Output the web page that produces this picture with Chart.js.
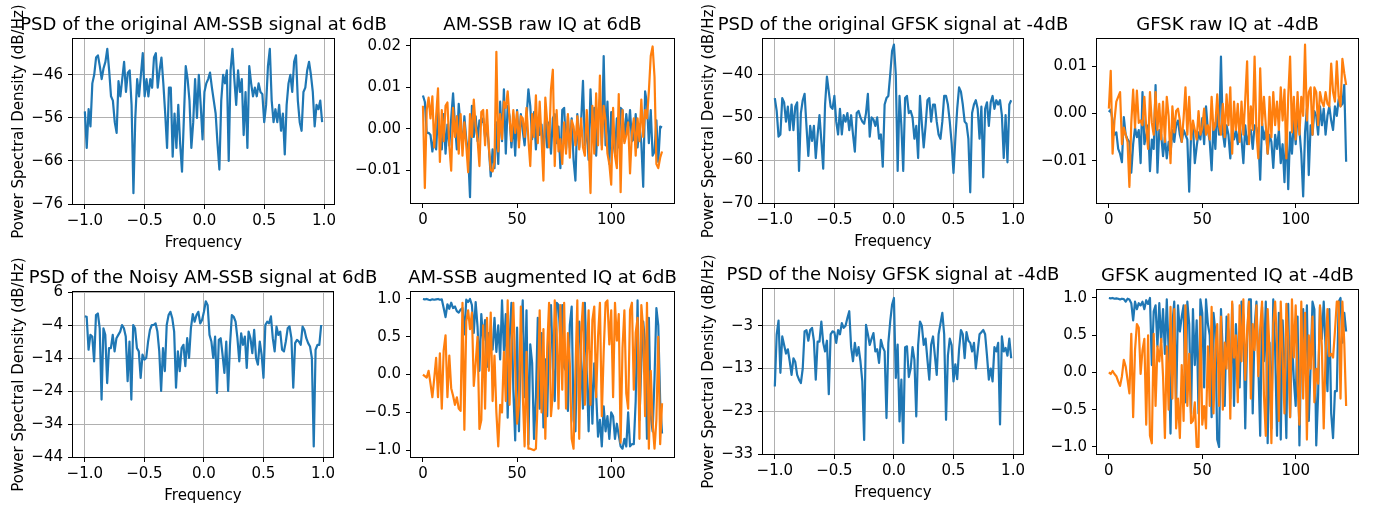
<!DOCTYPE html>
<html>
<head>
<meta charset="utf-8">
<script src="https://cdn.jsdelivr.net/npm/chart.js@4.4.1/dist/chart.umd.min.js"></script>
<style>
  html, body { margin: 0; padding: 0; background: #fff; overflow: hidden; }
  body { width: 1374px; height: 506px; position: relative; }
  canvas { position: absolute; }
</style>
</head>
<body>
<script>
// x positions: fft-shifted frequency bins and raw sample index
const freqBins = Array.from({ length: 128 }, (_, k) => -1 + k / 64);
const sampleIdx = Array.from({ length: 128 }, (_, k) => k);

// PSD of the original AM-SSB signal (dB/Hz)
const psdAmOrig = [
  -54.5, -63, -54, -58, -48, -46, -42, -41.5, -44, -47, -44.5, -43, -40, -45, -51, -52,
  -57, -59.5, -47.5, -51, -47, -43, -50, -45.5, -45, -53, -73.5, -56, -47, -51, -46, -41,
  -51, -47, -51, -47, -49, -42, -41, -49, -45, -42, -48, -55, -63, -49, -49, -65,
  -55, -63, -53, -62, -68.5, -56, -44, -47, -52, -63, -57, -47, -56, -46, -53, -61,
  -50, -48, -47, -45.5, -49, -52, -55, -62, -68, -52, -46, -48, -45, -66, -45, -40,
  -47, -53, -45, -50, -47, -60, -50, -63, -44, -48, -51, -49, -51, -48, -50, -50.5,
  -57, -53, -44, -40, -52, -57, -54, -57, -53, -59, -55, -64.5, -53, -48, -46, -50,
  -43, -41.5, -52, -57, -59, -50, -49, -45, -43, -46, -50, -58, -53, -54, -52, -57
];

// AM-SSB raw IQ
const iqAmRawI = [
  0.008, 0.0065, -0.001, -0.001, -0.0015, -0.0055, -0.002, -0.005, 0.004, -0.002, -0.005, 0.0035, -0.006, 0.001, -0.004, 0.0025,
  0.0085, 0.001, -0.005, 0.006, 0.0005, -0.004, 0.003, -0.0025, -0.006, -0.0165, 0.0055, -0.002, 0.003, -0.003, 0.002, 0.0015,
  0.0025, -0.002, 0.001, -0.0045, -0.0115, -0.005, -0.0095, 0.0015, -0.0085, 0.0065, -0.003, 0.0095, -0.006, 0.0055, 0.003, -0.0045,
  0.002, -0.0065, 0.0045, -0.003, 0.0035, -0.0005, -0.004, 0.0025, 0.0095, 0.0055, -0.0025, 0.004, -0.005, 0.0025, -0.0015, 0.001,
  -0.0075, 0.0035, -0.0045, 0.0015, -0.006, 0.0025, 0.0035, -0.0035, 0.0005, -0.0095, 0.0045, 0.005, -0.005, 0.003, -0.0045, 0.0025,
  -0.0075, -0.0125, 0.0035, -0.0045, 0.0015, 0.0115, -0.004, 0.0005, -0.0075, 0.0095, -0.002, 0.005, -0.0065, 0.003, 0.007, -0.004,
  0.0175, -0.004, 0.0065, -0.0085, 0.004, -0.003, -0.006, 0.0025, -0.0045, 0.005, 0.0045, -0.003, 0.0035, -0.001, 0.0045, -0.003,
  -0.0025, 0.0035, -0.0045, 0.001, -0.0035, -0.014, 0.009, 0.006, -0.0035, 0.0045, -0.0065, -0.0055, 0.002, -0.008, 0.0005, 0.0003
];
const iqAmRawQ = [
  0.0055, -0.0143, 0.0045, 0.0075, 0.0025, 0.0078, -0.0045, 0.003, 0.0097, -0.008, 0.0045, -0.003, 0.0055, 0.0063, -0.004, -0.0101,
  0.005, -0.002, 0.003, -0.006, 0.0035, -0.0065, 0.0015, -0.004, -0.0105, 0.0035, -0.002, 0.007, 0.0005, -0.0025, -0.009, 0.004,
  0.0045, -0.004, 0.0045, -0.0045, -0.01, -0.0103, -0.008, 0.0185, -0.0055, 0.0035, -0.0025, 0.0065, 0.005, 0.009, 0.0025, -0.003,
  0.0045, -0.001, 0.004, -0.0045, 0.003, 0.0025, -0.002, 0.005, -0.0025, -0.009, 0.0035, -0.002, 0.008, -0.0035, 0.0065, -0.0025,
  -0.0125, 0.0075, 0.0015, -0.0045, 0.0095, 0.0142, -0.009, 0.0045, -0.0055, -0.0025, -0.0085, 0.0015, -0.006, 0.0035, -0.007, 0.002,
  0.0005, -0.004, 0.003, -0.005, 0.0025, -0.0045, -0.0065, 0.0045, -0.0035, -0.0155, 0.0055, -0.006, 0.0085, -0.004, 0.0128, -0.005,
  0.0055, 0.002, -0.006, -0.0085, -0.0135, 0.005, -0.0065, -0.0095, 0.0083, -0.0153, 0.0045, -0.0035, -0.0015, 0.0015, -0.0108, -0.001,
  0.0025, -0.0065, 0.0025, -0.003, 0.007, -0.002, 0.0045, 0.0025, 0.009, 0.0175, 0.0198, 0.0125, -0.0085, -0.0095, -0.007, -0.0055
];

// PSD of the original GFSK signal (dB/Hz)
const psdGfskOrig = [
  -45.5, -48.5, -54.5, -54, -45.5, -46.5, -51, -47.5, -53, -47, -53, -47.5, -46.5, -62.5, -49, -46,
  -44.5, -52, -59, -52, -55.5, -52, -59.5, -54, -49.5, -55.5, -62, -47, -40.5, -44, -47.5, -48,
  -45, -51, -54, -48, -54, -49.5, -51, -49, -53, -49.5, -54, -58, -49, -48.5, -50, -51,
  -51.5, -49, -44.5, -54.5, -50, -50.5, -52, -50, -55, -54, -61.5, -47, -45.5, -45, -40, -34.5,
  -33, -40, -62.5, -45, -52, -62.5, -45.5, -45, -49, -48.5, -50, -55, -52, -59.5, -45, -51.5,
  -57, -52, -46, -45.5, -51, -47, -47, -51, -54, -55, -51, -45, -45, -47, -51, -56,
  -63, -55, -48, -43, -44, -47, -51, -51.5, -55, -67.5, -49, -47, -46, -48, -55, -47.5,
  -64, -48, -46.5, -52, -46.5, -45, -48, -46, -47, -46, -49.5, -59.5, -49.5, -60.5, -47, -46
];

// GFSK raw IQ
const iqGfskRawI = [
  0.0003, 0.0008, -0.0015, -0.0045, -0.004, -0.0075, -0.0085, -0.0103, -0.0008, -0.0045, -0.0055, -0.006, -0.0125, -0.0065, -0.003, -0.005,
  -0.0035, -0.0105, 0.0045, -0.0065, -0.0045, -0.0025, -0.0122, -0.0055, -0.0075, 0.006, -0.0125, -0.0035, -0.0045, -0.009, -0.005, -0.0095,
  -0.006, -0.0085, -0.0035, -0.006, -0.0025, -0.0015, -0.0045, -0.006, -0.0035, -0.0045, -0.0055, -0.0165, -0.0045, -0.0025, -0.0105, -0.007,
  -0.004, -0.0055, -0.001, -0.0065, 0.0015, -0.0035, -0.006, -0.012, -0.002, -0.0075, 0.0015, -0.0045, 0.012, -0.004, -0.007, -0.0025,
  -0.0045, -0.0095, -0.003, -0.0055, -0.0035, -0.0065, -0.0025, -0.0055, -0.0105, -0.0025, -0.0065, -0.0045, -0.0035, -0.0075, -0.0025, -0.003,
  -0.0055, -0.014, -0.002, -0.0055, -0.0035, -0.0085, -0.0045, -0.006, -0.0115, -0.0045, -0.0075, -0.0035, -0.0105, -0.0065, -0.0145, -0.0025,
  -0.016, -0.004, -0.0085, -0.0015, -0.0065, -0.0005, -0.0035, -0.0085, -0.0175, -0.004, 0.001, -0.013, -0.0025, -0.0045, 0.0005, -0.0005,
  -0.0045, 0.0015, -0.0025, 0.001, -0.0045, -0.0005, 0.0015, -0.0015, -0.0035, 0.0015, -0.0005, 0.003, 0.0015, 0.002, 0.006, -0.0102
];
const iqGfskRawQ = [
  0.001, 0.009, -0.0085, -0.0015, 0.0025, 0.0035, 0.0045, -0.0065, -0.003, -0.0045, -0.006, -0.0155, -0.002, 0.005, -0.003, 0.0048,
  -0.002, -0.0015, -0.0025, 0.0035, -0.003, -0.0075, 0.0045, -0.002, -0.0045, 0.0045, -0.0035, 0.002, -0.0055, 0.0025, -0.006, 0.0035,
  -0.0005, -0.0105, 0.0015, -0.004, 0.0005, 0.001, -0.0015, -0.006, -0.001, 0.0055, -0.0045, 0.0035, -0.0055, -0.0015, -0.0035, -0.0055,
  0.0005, -0.0045, -0.003, 0.001, -0.0045, -0.0025, -0.0055, 0.0035, -0.0035, -0.0025, 0.004, -0.0025, -0.0045, 0.002, -0.005, 0.004,
  -0.0025, 0.0055, -0.0085, 0.0025, -0.0035, 0.002, -0.006, 0.0025, -0.0045, 0.003, 0.011, -0.0065, 0.0015, -0.0035, 0.012, -0.004,
  -0.0095, 0.0095, -0.0025, 0.0035, -0.0025, -0.0085, 0.0035, -0.005, 0.0045, -0.0025, 0.0025, -0.0035, 0.0055, -0.0015, 0.005, -0.0095,
  0.0035, 0.012, -0.004, 0.0035, -0.0055, 0.0045, -0.0045, 0.0035, -0.0005, 0.0145, -0.0015, 0.0045, 0.0055, -0.0045, 0.0055, 0.0045,
  -0.0025, 0.0045, 0.0025, 0.0015, 0.0045, 0.002, 0.0015, 0.0105, 0.0045, 0.0025, 0.011, 0.0035, 0.0015, 0.0115, 0.0085, 0.006
];

// PSD of the noisy AM-SSB signal (dB/Hz)
const psdAmNoisy = [
  -1.4, -1.5, -11.5, -7, -7.5, -15, -1, -0.5, -5, -26.6, -5, -7, -21.6, -11, -11, -7,
  -12, -8, -7, -6, -4, -5, -7.5, -21, -9, -26.6, -4, -5, -11, -12, -20, -13,
  -14.5, -14, -9, -5.5, -4, -4, -3.5, -6, -12, -24, -11, -18, -4, -1, 0, -2,
  -6, -23, -12, -18, -11, -10, -16.5, -8, -14, -5, -0.7, -3, -1, 0, -3.5, -2.5,
  0, 3.2, 2, -7, -9, -14, -7.5, -24.6, -8.5, -8, -13, -18.5, -9, -24, -10, -1,
  -1.5, -3, -8, -15, -6.5, -10, -7.5, -17, -6, -8, -12.5, -5.5, -14, -16, -9, -13,
  -20, -4, -3, -3.5, -1.4, -8, -12, -4.5, -7, -6, -11.5, -12, -9, -5, -4.4, -8,
  -23, -9.5, -8.5, -9, -10, -4.5, -5.5, -8, -9.5, -10.5, -14, -40.8, -11.5, -10, -10, -4
];

// AM-SSB augmented IQ
const iqAmAugI = [
  1.0, 0.995, 1.0, 0.99, 0.985, 0.995, 0.99, 0.995, 1.0, 0.99, 0.995, 0.88, 0.76, 0.93, 0.87, 0.95,
  0.88, 0.9, 0.84, 0.82, 0.86, 0.88, 0.53, 0.99, 0.96, 1.0, 0.92, 0.55, 0.96, 0.63, 0.05, 0.8,
  0.45, 0.72, 0.1, 0.55, 0.38, 0.33, 0.75, 0.3, 0.65, 0.2, 0.98, 0.32, 0.8, -0.57, 0.45, 0.95,
  -0.2, -0.87, 0.62, -0.75, 0.5, 0.98, -0.3, 0.85, -0.92, 0.4, 0.15, -0.85, -0.3, 0.75, -0.45, 0.55,
  -0.7, 0.2, -0.55, 0.6, 0.92, 0.1, -0.35, 0.95, 0.92, 0.45, 0.92, 0.1, 0.05, -0.48, 0.65, 0.9,
  -0.6, -0.75, 0.5, 0.7, 0.15, -0.45, 0.95, 0.05, -0.75, 0.3, -0.65, 0.15, -0.25, -0.82, -0.6, -0.95,
  -0.42, -0.75, -0.55, -0.85, -0.5, -0.55, -0.85, -0.65, -0.8, -0.95, -0.98, -0.85, -0.95, -0.5, -0.95, -0.92,
  -0.92, -0.35, 0.98, -0.6, 0.15, 0.7, 0.4, -0.85, 0.75, -0.55, -0.75, -0.05, 0.88, 0.65, -0.35, -0.78
];
const iqAmAugQ = [
  0.0, -0.02, -0.04, 0.05, -0.12, -0.3, -0.05, 0.22, -0.3, 0.28, -0.45, 0.32, 0.52, -0.3, 0.25, -0.18,
  -0.28, -0.4, -0.3, -0.45, -0.48, 0.95, -0.73, 0.7, 0.85, 0.6, 0.82, -0.15, 0.15, 0.5, -0.72, -0.6,
  0.65, -0.45, 0.75, 0.05, 0.82, -0.35, 0.25, -0.5, -0.95, -0.4, -0.5, 0.3, -0.35, 0.98, -0.4, 0.4,
  0.95, 0.1, -0.65, -0.4, 0.9, -0.25, -0.95, 0.3, -0.98, -0.98, -0.99, -1.0, -0.98, -0.3, 0.85, -0.5,
  0.6, -0.85, 0.35, 0.95, -0.55, -0.25, 0.98, 0.6, -0.45, 0.92, -0.2, 0.95, -0.45, 0.55, 0.15, -0.85,
  -0.98, 0.05, 0.98, -0.85, 0.55, 0.95, -0.4, 0.2, 0.85, -0.4, 0.72, 0.9, -0.3, 0.5, 0.95, -0.55,
  0.3, 0.95, 0.98, 0.4, 0.85, -0.3, 0.95, 0.45, 0.8, -0.9, 0.35, 0.85, -0.25, -0.45, 0.85, 0.95,
  -0.2, 0.55, 0.75, -0.85, 0.92, 0.6, -0.55, 0.95, -0.98, 0.05, -0.65, -0.98, -0.6, 0.5, -0.92, -0.38
];

// PSD of the noisy GFSK signal (dB/Hz)
const psdGfskNoisy = [
  -17.2, -5, -1.8, -14, -5.5, -7.5, -9.5, -8.5, -11.3, -14.5, -10.6, -11.5, -14.5, -15.6, -16.4, -13,
  -4.3, -4, -6.5, -4, -3.5, -6.5, -15.6, -6.7, -6.7, -2, -7, -9, -6.5, -19, -5, -4.3,
  -4.5, -7, -4, -5, -2.4, -3.5, -3, -1.2, 0.4, -8, -11.3, -7, -10, -8, -11.3, -16,
  -29.7, -2.8, -5, -7.5, -6, -4.7, -9, -8.5, -11.7, -6.3, -8, -9, -24.6, -7, -2, 1.9,
  3.5, -15.2, -7.4, -25.4, -15.6, -30.4, -8, -7.8, -15, -13, -8, -11, -24.2, -7.5, -2, -3,
  -7.5, -6, -11, -15.6, -7.4, -5.5, -10, -14.5, -5, -2.5, 0, -5, -25, -10, -6, -7.5,
  -16, -12, -15.5, -8.5, -4, -5, -10.6, -4.5, -6.5, -7, -9, -7, -13, -9, -5, -4.5,
  -4, -5, -10, -15.6, -13, -16, -8, -9, -7, -26.1, -5.5, -9, -8.2, -10, -6, -10.6
];

// GFSK augmented IQ
const iqGfskAugI = [
  1.0, 0.995, 1.0, 0.99, 0.995, 0.99, 0.98, 0.99, 0.985, 0.95, 0.99, 0.98, 0.93, 0.7, 0.95, 0.85,
  0.93, 0.9, 0.95, 0.85, 0.97, 0.92, 1.0, 0.1, 0.82, 0.9, 0.35, 0.93, 0.4, 0.85, 0.25, 0.98,
  0.3, -0.82, 0.65, 0.95, -0.45, 0.9, 0.55, 0.75, 0.9, -0.4, 0.95, 0.65, -0.55, 0.85, 0.1, 0.7,
  -0.55, 0.98, 0.8, -0.2, 0.98, 0.65, 0.5, -0.6, 0.8, 0.55, -0.9, -1.0, 0.85, 0.25, -0.45, 0.75,
  0.55, -0.35, 0.92, -0.45, 0.65, 0.1, -0.2, 0.95, 0.75, -0.75, 0.45, 0.98, 0.98, -0.55, 0.6, 0.95,
  0.1, -0.85, 0.88, 0.15, 0.95, -0.95, 0.4, -0.75, 0.98, 0.3, -0.85, 0.8, -0.9, 0.7, 0.05, -0.88,
  0.92, -0.6, 0.5, -0.1, -0.45, 0.75, -0.98, 0.45, 0.85, 0.15, 0.9, -0.65, 0.1, 0.95, 0.85, -0.98,
  -0.3, 0.88, 0.45, 0.95, 0.35, -0.25, 0.85, -0.55, -0.88, -0.25, -0.25, 0.95, 1.0, 0.4, 0.8, 0.55
];
const iqGfskAugQ = [
  0.0, -0.02, 0.02, -0.02, -0.05, -0.12, -0.18, -0.05, 0.17, 0.08, -0.1, -0.28, 0.52, -0.6, 0.3, 0.65,
  0.6, -0.02, 0.3, 0.45, -0.7, 0.5, -0.85, -0.95, 0.52, -0.45, 0.35, 0.15, 0.45, -0.05, -0.88, 0.35,
  -0.5, 0.88, -0.35, 0.85, -0.75, -0.35, -0.88, 0.1, -0.65, 0.9, -0.45, 0.25, -0.68, -0.65, -0.4, -1.0,
  -1.0, 0.75, -0.7, -0.45, -0.75, 0.35, -0.45, 0.88, -0.55, 0.3, 0.65, -0.45, 0.75, -0.5, 0.4, 0.05,
  0.78, -0.62, 0.95, 0.2, 0.5, -0.4, 0.9, 0.15, 0.98, -0.1, 0.55, 0.95, -0.35, 0.65, 0.3, 0.9,
  -0.05, 0.6, 0.95, -0.3, -0.85, 0.85, 0.3, -0.95, 0.65, 0.95, 0.4, -0.65, 0.95, 0.2, -0.55, 0.92,
  0.45, -0.6, 0.98, 0.2, 0.9, -0.15, -0.7, 0.95, -0.35, 0.8, -0.9, 0.5, 0.05, 0.75, -0.4, 0.05,
  -0.15, 0.9, 0.35, -0.75, 0.25, 0.85, 0.22, 0.25, 0.2, 0.55, 0.95, 0.95, -0.35, 0.95, 0.4, -0.45
];

// tick values and labels
const freqTicks = [-1, -0.5, 0, 0.5, 1];
const freqTickLabels = ['\u22121.0', '\u22120.5', '0.0', '0.5', '1.0'];
const idxTicks = [0, 50, 100];
const idxTickLabels = ['0', '50', '100'];
const amOrigYTicks = [-76, -66, -56, -46];
const amRawYTicks = [-0.01, 0, 0.01, 0.02];
const amRawYTickLabels = ['\u22120.01', '0.00', '0.01', '0.02'];
const gfskOrigYTicks = [-70, -60, -50, -40];
const gfskRawYTicks = [-0.01, 0, 0.01];
const gfskRawYTickLabels = ['\u22120.01', '0.00', '0.01'];
const amNoisyYTicks = [-44, -34, -24, -14, -4, 6];
const augYTicks = [-1, -0.5, 0, 0.5, 1];
const augYTickLabels = ['\u22121.0', '\u22120.5', '0.0', '0.5', '1.0'];
const gfskNoisyYTicks = [-33, -23, -13, -3];

const BLUE = '#1f77b4';
const ORANGE = '#ff7f0e';
const minusLabels = arr => arr.map(v => String(v).replace('-', '\u2212'));

// layout: axes box [left, top, right, bottom] in page pixels
const PAD = { l: 70, r: 70, b: 50 };
const PSD_X = [-1.0992, 1.0836];
const IQ_X = [-6.35, 133.35];
const TICK_FONT = 15;
const TITLE_FONT = 18;

const panels = [
  { box: [73, 39, 334, 204], padT: 39, psd: true, title: 'PSD of the original AM-SSB signal at 6dB',
    yr: [-76, -37.7], yt: amOrigYTicks, yl: minusLabels(amOrigYTicks), series: [psdAmOrig] },
  { box: [411, 39, 674, 203], padT: 39, psd: false, title: 'AM-SSB raw IQ at 6dB',
    yr: [-0.0179, 0.0216], yt: amRawYTicks, yl: amRawYTickLabels, series: [iqAmRawI, iqAmRawQ] },
  { box: [763, 39, 1023, 203], padT: 39, psd: true, title: 'PSD of the original GFSK signal at -4dB',
    yr: [-70, -31.7], yt: gfskOrigYTicks, yl: minusLabels(gfskOrigYTicks), series: [psdGfskOrig] },
  { box: [1097, 39, 1358, 203], padT: 39, psd: false, title: 'GFSK raw IQ at -4dB',
    yr: [-0.0189, 0.0157], yt: gfskRawYTicks, yl: gfskRawYTickLabels, series: [iqGfskRawI, iqGfskRawQ] },
  { box: [73, 292, 333, 457], padT: 40, psd: true, title: 'PSD of the Noisy AM-SSB signal at 6dB',
    yr: [-44, 6], yt: amNoisyYTicks, yl: minusLabels(amNoisyYTicks), series: [psdAmNoisy] },
  { box: [411, 292, 674, 457], padT: 40, psd: false, title: 'AM-SSB augmented IQ at 6dB',
    yr: [-1.09, 1.092], yt: augYTicks, yl: augYTickLabels, series: [iqAmAugI, iqAmAugQ] },
  { box: [763, 289, 1023, 454], padT: 40, psd: true, title: 'PSD of the Noisy GFSK signal at -4dB',
    yr: [-33, 5.6], yt: gfskNoisyYTicks, yl: minusLabels(gfskNoisyYTicks), series: [psdGfskNoisy] },
  { box: [1097, 290, 1358, 454], padT: 40, psd: false, title: 'GFSK augmented IQ at -4dB',
    yr: [-1.094, 1.107], yt: augYTicks, yl: augYTickLabels, series: [iqGfskAugI, iqGfskAugQ] }
];

Chart.defaults.font.family = '"DejaVu Sans"';

// frame, title and axis labels the way matplotlib draws them
const decor = p => ({
  id: 'decor',
  afterDatasetsDraw(chart) {
    const { ctx, chartArea: a } = chart;
    const cx = (a.left + a.right) / 2;
    ctx.save();
    ctx.strokeStyle = '#000';
    ctx.lineWidth = 1;
    ctx.strokeRect(a.left - 0.5, a.top - 0.5, a.right - a.left + 1, a.bottom - a.top + 1);
    ctx.fillStyle = '#000';
    ctx.textAlign = 'center';
    ctx.textBaseline = 'alphabetic';
    ctx.font = TITLE_FONT + 'px "DejaVu Sans"';
    ctx.fillText(p.title, cx, a.top - 9.5);
    if (p.psd) {
      ctx.font = TICK_FONT + 'px "DejaVu Sans"';
      ctx.fillText('Frequency', cx, a.bottom + 43);
      ctx.translate(a.left - 50.5, (a.top + a.bottom) / 2);
      ctx.rotate(-Math.PI / 2);
      ctx.fillText('Power Spectral Density (dB/Hz)', 0, 0);
    }
    ctx.restore();
  }
});

panels.forEach(p => {
  const [l, t, r, b] = p.box;
  const w = r - l + PAD.l + PAD.r;
  const h = b - t + p.padT + PAD.b;
  const cv = document.createElement('canvas');
  cv.width = w;
  cv.height = h;
  cv.style.left = (l - PAD.l) + 'px';
  cv.style.top = (t - p.padT) + 'px';
  cv.style.width = w + 'px';
  cv.style.height = h + 'px';
  document.body.appendChild(cv);

  const xs = p.psd ? freqBins : sampleIdx;
  const xr = p.psd ? PSD_X : IQ_X;
  const xt = p.psd ? freqTicks : idxTicks;
  const xl = p.psd ? freqTickLabels : idxTickLabels;
  const colors = [BLUE, ORANGE];

  new Chart(cv, {
    type: 'line',
    data: {
      datasets: p.series.map((s, i) => ({
        data: s.map((v, k) => ({ x: xs[k], y: v })),
        borderColor: colors[i],
        borderWidth: 2.2,
        borderJoinStyle: 'round',
        pointRadius: 0,
        tension: 0,
        fill: false,
        order: p.series.length - i
      }))
    },
    options: {
      responsive: false,
      animation: false,
      devicePixelRatio: 1,
      events: [],
      layout: { autoPadding: false, padding: { top: p.padT, right: PAD.r, left: 0, bottom: 0 } },
      plugins: { legend: { display: false }, tooltip: { enabled: false } },
      scales: {
        x: {
          type: 'linear', min: xr[0], max: xr[1],
          afterBuildTicks: s => { s.ticks = xt.map(v => ({ value: v })); },
          afterFit: s => { s.height = PAD.b; },
          ticks: { autoSkip: false, maxRotation: 0, color: '#000', padding: 3,
                   font: { size: TICK_FONT }, callback: (v, i) => xl[i] },
          grid: { drawOnChartArea: p.psd, color: '#b0b0b0', lineWidth: 1,
                  tickColor: '#000', tickLength: 5, tickWidth: 1 },
          border: { display: false }
        },
        y: {
          type: 'linear', min: p.yr[0], max: p.yr[1],
          afterBuildTicks: s => { s.ticks = p.yt.map(v => ({ value: v })); },
          afterFit: s => { s.width = PAD.l; },
          ticks: { autoSkip: false, color: '#000', padding: 5,
                   font: { size: TICK_FONT }, callback: (v, i) => p.yl[i] },
          grid: { drawOnChartArea: p.psd, color: '#b0b0b0', lineWidth: 1,
                  tickColor: '#000', tickLength: 5, tickWidth: 1 },
          border: { display: false }
        }
      }
    },
    plugins: [decor(p)]
  });
});
</script>
</body>
</html>
